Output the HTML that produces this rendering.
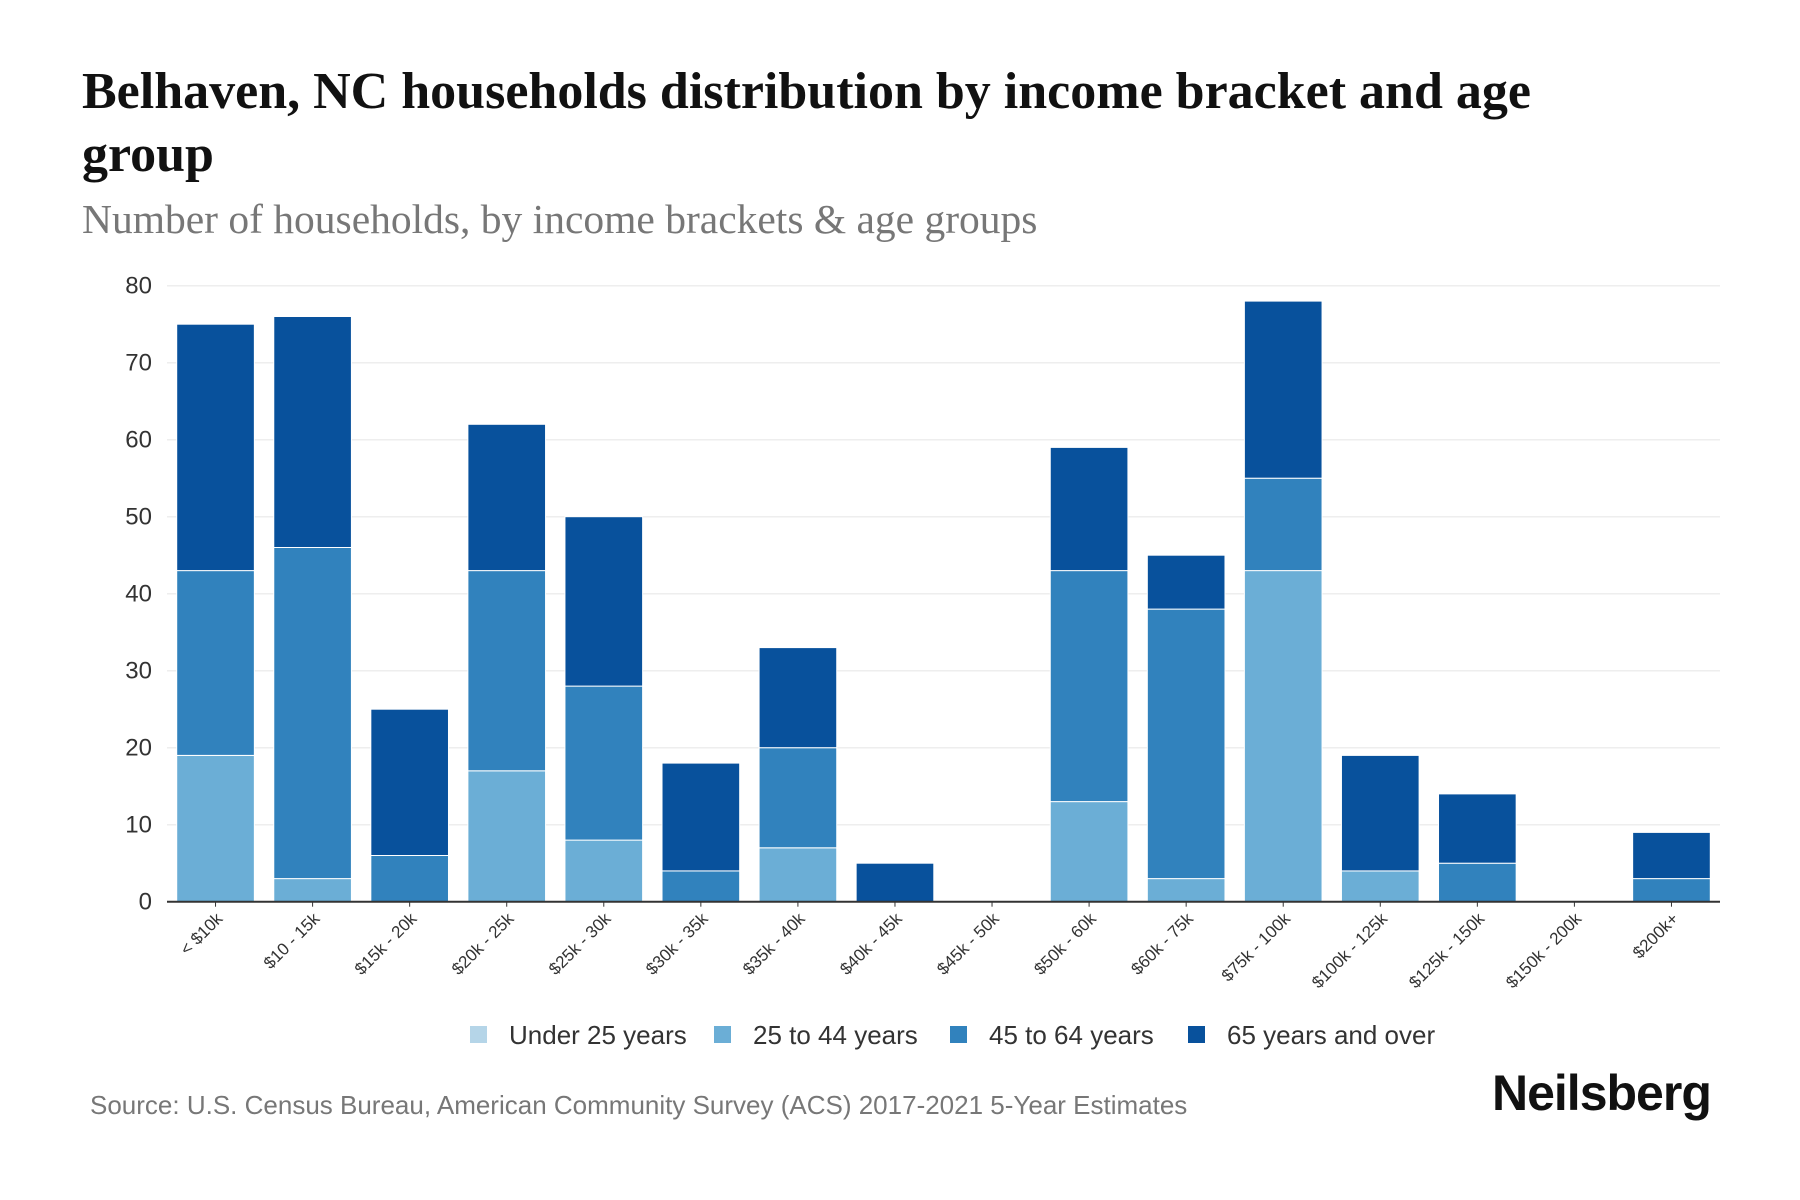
<!DOCTYPE html>
<html><head><meta charset="utf-8"><style>
body{margin:0;background:#fff;width:1800px;height:1200px;overflow:hidden;font-family:"Liberation Sans",sans-serif}
.t{position:absolute;left:82px;font-family:"Liberation Serif",serif;font-weight:bold;font-size:52px;color:#111;line-height:63px;top:60px;width:1520px}
.s{position:absolute;left:82px;top:195px;font-family:"Liberation Serif",serif;font-size:41.5px;color:#777}
.src{position:absolute;left:90px;top:1090px;font-size:26px;color:#777}
.logo{position:absolute;left:1492px;top:1064px;font-size:50px;font-weight:bold;color:#111;letter-spacing:-1px}
</style></head><body>
<div class="t">Belhaven, NC households distribution by income bracket and age group</div>
<div class="s">Number of households, by income brackets &amp; age groups</div>
<svg id="c" width="1800" height="1200" style="position:absolute;left:0;top:0"></svg>
<div class="src">Source: U.S. Census Bureau, American Community Survey (ACS) 2017-2021 5-Year Estimates</div>
<div class="logo">Neilsberg</div>
<script>
const categories=["< $10k","$10 - 15k","$15k - 20k","$20k - 25k","$25k - 30k","$30k - 35k","$35k - 40k","$40k - 45k","$45k - 50k","$50k - 60k","$60k - 75k","$75k - 100k","$100k - 125k","$125k - 150k","$150k - 200k","$200k+"];
const under25=[0,0,0,0,0,0,0,0,0,0,0,0,0,0,0,0];
const age25to44=[19,3,0,17,8,0,7,0,0,13,3,43,4,0,0,0];
const age45to64=[24,43,6,26,20,4,13,0,0,30,35,12,0,5,0,3];
const age65plus=[32,30,19,19,22,14,13,5,0,16,7,23,15,9,0,6];
const yTicks=[0,10,20,30,40,50,60,70,80];
const seriesNames=["Under 25 years","25 to 44 years","45 to 64 years","65 years and over"];
const colors=["#b5d5e8","#6baed6","#3182bd","#08519c"];
const NS="http://www.w3.org/2000/svg",svg=document.getElementById('c');
const L=167,R=1720,T=285.7,B=901.7,ymax=80;
const band=(R-L)/categories.length;
const y=v=>B-(v/ymax)*(B-T);
const xc=i=>L+band*(i+0.5);
function mk(tag,attrs){const e=document.createElementNS(NS,tag);for(const k in attrs)e.setAttribute(k,attrs[k]);svg.appendChild(e);return e;}
yTicks.forEach(t=>{
  const g=mk('line',{x1:L,x2:R,y1:y(t),y2:y(t),stroke:'#eeeeee','stroke-width':1.5});
  
  
  const tx=mk('text',{x:152,y:y(t)+8,'text-anchor':'end','font-size':24,fill:'#333','font-family':'Liberation Sans'});
  tx.textContent=t;
  
  
});
const series=[under25,age25to44,age45to64,age65plus];
categories.forEach((c,i)=>{
  let base=0;
  series.forEach((s,k)=>{
    const v=s[i];if(v<=0)return;
    const r=mk('rect',{x:xc(i)-band*0.4,width:band*0.8,y:y(base+v),height:y(base)-y(base+v),fill:colors[k],stroke:'#fff','stroke-width':1});
    
    
    base+=v;
  });
  const tk=mk('line',{x1:xc(i),x2:xc(i),y1:B,y2:B+5,stroke:'#333','stroke-width':1});
  
  
  const lx=xc(i)+8,ly=B+18;
  const tx=mk('text',{x:lx,y:ly,'text-anchor':'end','font-size':17,fill:'#333',transform:`rotate(-45 ${lx} ${ly})`});
  tx.textContent=c;
  
  
});
const ax=mk('line',{x1:L,x2:R,y1:B,y2:B,stroke:'#333','stroke-width':2});


const lxs=[470,714,950,1188];
seriesNames.forEach((n,k)=>{
  const r=mk('rect',{x:lxs[k],y:1026,width:17,height:17,fill:colors[k]});
  
  
  const t=mk('text',{x:lxs[k]+39,y:1044,'font-size':26,fill:'#333'});
  t.textContent=n;
  
  
});
</script>
</body></html>
